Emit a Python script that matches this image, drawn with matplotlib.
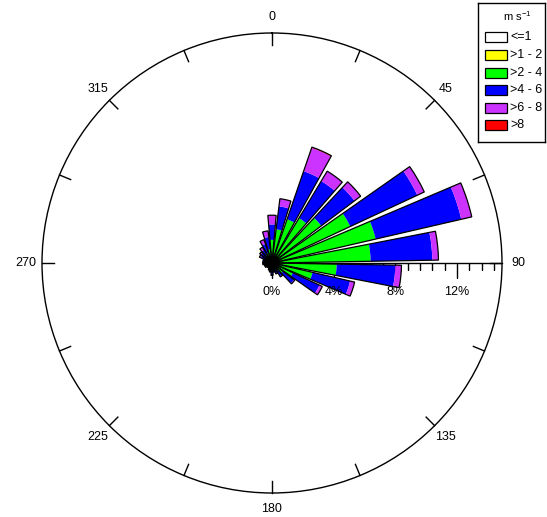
import numpy as np
import matplotlib
matplotlib.use("Agg")
import matplotlib.pyplot as plt
from matplotlib.patches import Rectangle

plt.rcParams['font.family'] = ['Liberation Sans', 'DejaVu Sans']
plt.rcParams['mathtext.fontset'] = 'custom'
plt.rcParams['mathtext.rm'] = 'Liberation Sans'

# wind direction bins (degrees, 12 degree sectors)
directions = np.arange(0, 360, 12)

# frequency (%) of each speed class per direction
calm_le1 = [0.1, 0.1, 0.1, 0.1, 0.1, 0.1, 0.1, 0.1, 0.1, 0.1,
            0.1, 0.1, 0.1, 0.1, 0.1, 0.1, 0.1, 0.1, 0.1, 0.1,
            0.1, 0.1, 0.1, 0.1, 0.1, 0.1, 0.1, 0.1, 0.1, 0.1]
spd_1_2 = [0.2, 0.2, 0.2, 0.2, 0.2, 0.2, 0.2, 0.2, 0.2, 0.2,
           0.2, 0.2, 0.15, 0.15, 0.15, 0.15, 0.15, 0.1, 0.1, 0.1,
           0.1, 0.1, 0.15, 0.15, 0.15, 0.15, 0.15, 0.15, 0.2, 0.2]
spd_2_4 = [1.2, 1.9, 2.7, 3.1, 3.7, 5.3, 6.6, 6.1, 3.9, 2.4,
           1.2, 0.6, 0.35, 0.25, 0.15, 0.25, 0.15, 0.1, 0.1, 0.1,
           0.1, 0.1, 0.15, 0.15, 0.15, 0.25, 0.25, 0.35, 0.4, 0.6]
spd_4_6 = [1.0, 1.5, 3.3, 2.8, 2.7, 4.8, 5.7, 4.0, 3.8, 2.5,
           1.9, 0.9, 0.4, 0.2, 0.2, 0.3, 0.2, 0.2, 0.1, 0.1,
           0.2, 0.2, 0.2, 0.2, 0.2, 0.3, 0.4, 0.4, 0.6, 0.8]
spd_6_8 = [0.6, 0.5, 1.6, 0.75, 0.5, 0.5, 0.7, 0.4, 0.4, 0.3,
           0.2, 0.05, 0.05, 0.05, 0.0, 0.0, 0.0, 0.0, 0.0, 0.0,
           0.0, 0.0, 0.0, 0.0, 0.0, 0.1, 0.1, 0.2, 0.3, 0.4]
spd_gt8 = [0.0, 0.0, 0.05, 0.0, 0.0, 0.0, 0.0, 0.0, 0.0, 0.0,
           0.0, 0.0, 0.0, 0.0, 0.0, 0.0, 0.0, 0.0, 0.0, 0.0,
           0.0, 0.0, 0.0, 0.0, 0.0, 0.0, 0.0, 0.0, 0.0, 0.0]

classes = [calm_le1, spd_1_2, spd_2_4, spd_4_6, spd_6_8, spd_gt8]
class_labels = ['<=1', '>1 - 2', '>2 - 4', '>4 - 6', '>6 - 8', '>8']
class_colors = ['#FFFFFF', '#FFFF00', '#00FF00', '#0000FF', '#CC33FF', '#FF0000']

compass_angles = [0, 45, 90, 135, 180, 225, 270, 315]
pct_ticks = [0, 4, 8, 12]
rmax = 14.92

W, H = 547, 517
fig = plt.figure(figsize=(W / 100, H / 100), dpi=100)

# polar axes: centre at (272, 263) px, radius 230 px
cx, cy, rad = 272, 263, 230
ax = fig.add_axes([(cx - rad) / W, (H - cy - rad) / H, 2 * rad / W, 2 * rad / H],
                  projection='polar')
ax.set_theta_zero_location('N')
ax.set_theta_direction(-1)
ax.set_ylim(0, rmax)
ax.grid(False)
ax.set_xticks([])
ax.set_yticks([])
ax.spines['polar'].set_linewidth(1.0)
ax.patch.set_alpha(0)

theta = np.deg2rad(directions)
width = np.deg2rad(10)

bottom = np.zeros(len(directions))
for vals, col in zip(classes, class_colors):
    vals = np.array(vals)
    ax.bar(theta, vals, width=width, bottom=bottom, color=col,
           edgecolor='none', linewidth=0, zorder=3)
    bottom += vals

# outline of each stacked bar
ax.bar(theta, bottom, width=width, bottom=0, fill=False,
       edgecolor='black', linewidth=0.9, zorder=4)

# percentage axis along east
ax.plot([np.pi / 2, np.pi / 2], [0, rmax], color='black', lw=1, zorder=1)
minor = [v for v in np.arange(0.8, rmax, 0.8) if abs(v / 4 - round(v / 4)) > 0.01]
ax.plot(np.full(len(minor), np.pi / 2), minor, linestyle='', marker=3,
        markersize=5, color='black', mew=1, zorder=1)
ax.plot(np.full(len(pct_ticks), np.pi / 2), pct_ticks, linestyle='', marker=3,
        markersize=10.5, color='black', mew=1, zorder=1)
for p in pct_ticks:
    ax.annotate('%d%%' % p, xy=(np.pi / 2, p), xytext=(0, -21),
                textcoords='offset points', ha='center', va='center',
                fontsize=9, zorder=5)

# compass ticks on the outer circle
for a in np.arange(0, 360, 22.5):
    t = np.deg2rad(a)
    ax.plot([t, t], [rmax - 0.78, rmax], color='black', lw=1, clip_on=False)

for a in compass_angles:
    ax.text(np.deg2rad(a), 15.95, str(a), ha='center', va='center',
            fontsize=9, clip_on=False)

# legend box
lax = fig.add_axes([478 / W, (H - 142) / H, 67 / W, 139 / H])
lax.set_xlim(478, 545)
lax.set_ylim(142, 3)
lax.set_xticks([])
lax.set_yticks([])
for s in lax.spines.values():
    s.set_linewidth(1.0)
lax.text(517, 16, r'm s$^{\mathregular{-1}}$', ha='center', va='center', fontsize=8)
rows = [37, 55, 73, 90, 108, 125]
for y, lab, col in zip(rows, class_labels, class_colors):
    lax.add_patch(Rectangle((485, y - 5), 22, 10, facecolor=col,
                            edgecolor='black', linewidth=0.9))
    lax.text(510, y, lab, ha='left', va='center', fontsize=9)

fig.savefig('out.png', dpi=100)
